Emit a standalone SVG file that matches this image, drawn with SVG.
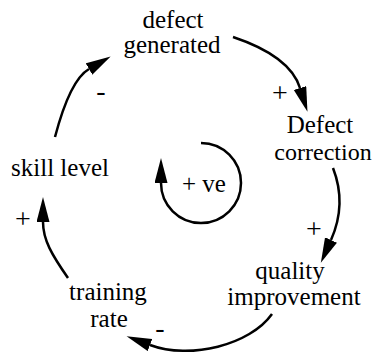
<svg xmlns="http://www.w3.org/2000/svg" width="374" height="360" viewBox="0 0 374 360" font-family="'Liberation Serif', 'Times New Roman', serif">
<style>
  text { font-family: "Liberation Serif", "Times New Roman", serif; font-size: 25px; fill: #000; }
  .lbl { text-anchor: middle; }
  .sign { text-anchor: middle; font-size: 28px; }
  .conn { fill: none; stroke: #000; stroke-width: 2.5; }
</style>
<defs>
  <marker id="ah" markerUnits="userSpaceOnUse" markerWidth="26" markerHeight="14" refX="0" refY="6.5" orient="auto">
    <path d="M0,0 L25,6.5 L0,13 Z" fill="#000"/>
  </marker>
</defs>
<rect width="374" height="360" fill="#fff"/>
<g id="connectors">
  <path class="conn" d="M55,137 Q70,80 89,69" marker-end="url(#ah)"/>
  <path class="conn" d="M233,37 Q290,56 300,88" marker-end="url(#ah)"/>
  <path class="conn" d="M333,168 Q347,204 331,240" marker-end="url(#ah)"/>
  <path class="conn" d="M272,314 C250,345 190,360 150,345" marker-end="url(#ah)"/>
  <path class="conn" d="M68,278 C52,255 43,240 43,222" marker-end="url(#ah)"/>
  <path class="conn" d="M201,143 A40,40 0 1 1 161,183" marker-end="url(#ah)"/>
</g>
<g id="signs">
  <text class="sign" x="101" y="100">-</text>
  <text class="sign" x="280" y="102">+</text>
  <text class="sign" x="314" y="238">+</text>
  <text class="sign" x="160" y="337">-</text>
  <text class="sign" x="23" y="228">+</text>
</g>
<g id="defect-generated">
  <text class="lbl" x="173" y="28">defect</text>
  <text class="lbl" x="172" y="53">generated</text>
</g>
<g id="defect-correction">
  <text class="lbl" x="320" y="133">Defect</text>
  <text class="lbl" x="323" y="160" style="font-size:24px">correction</text>
</g>
<g id="quality-improvement">
  <text class="lbl" x="290" y="279">quality</text>
  <text class="lbl" x="294" y="305">improvement</text>
</g>
<g id="training-rate">
  <text class="lbl" x="108" y="300">training</text>
  <text class="lbl" x="109" y="327">rate</text>
</g>
<g id="skill-level">
  <text class="lbl" x="60" y="176">skill level</text>
</g>
<g id="loop-label">
  <text x="182" y="192">+ ve</text>
</g>
</svg>
